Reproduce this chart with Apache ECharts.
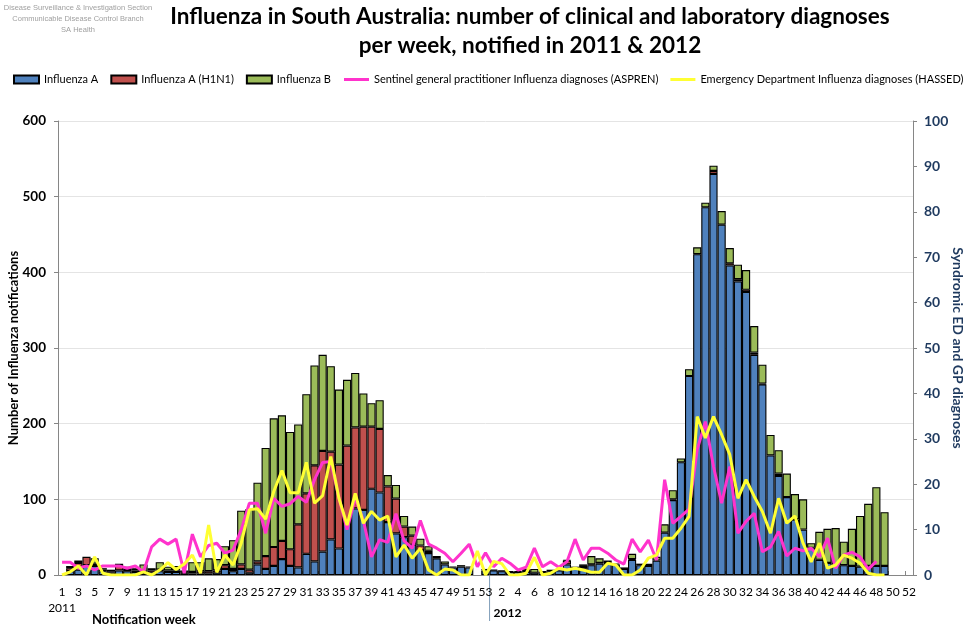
<!DOCTYPE html>
<html>
<head>
<meta charset="utf-8">
<script src="https://cdn.jsdelivr.net/npm/echarts@6/dist/echarts.min.js"></script>
<style>
  html, body { margin: 0; padding: 0; background: #fff; }
  #main { width: 970px; height: 629px; }
</style>
</head>
<body>
<div id="main"></div>
<script>
// notification weeks (2011 has 53 weeks, 2012 has 52)
const weeks2011 = [1,2,3,4,5,6,7,8,9,10,11,12,13,14,15,16,17,18,19,20,21,22,23,24,25,26,27,
  28,29,30,31,32,33,34,35,36,37,38,39,40,41,42,43,44,45,46,47,48,49,50,51,52,53];
const weeks2012 = [1,2,3,4,5,6,7,8,9,10,11,12,13,14,15,16,17,18,19,20,21,22,23,24,25,26,
  27,28,29,30,31,32,33,34,35,36,37,38,39,40,41,42,43,44,45,46,47,48,49,50,51,52];

// laboratory notifications per week
const fluA2011 = [0,5,7,13,12,5,3,6,5,4, 3,3,5,4,4,2,2,2,2,3, 8,5,8,3,14,8,12,21,12,10,
  28,18,31,47,35,70,88,86,114,109, 70,55,50,40,33,29,22,14,10,11, 10,0,6];
const h1n12011 = [0,4,9,11,3,2,2,6,3,2, 1,3,2,2,2,1,2,3,3,3, 5,3,6,4,4,17,25,24,22,57,
  80,127,133,116,111,101,107,110,82,84, 47,46,14,12,6,3,0,0,0,0, 0,0,0];
const fluB2011 = [0,3,3,0,7,2,2,3,3,3, 10,3,10,5,6,3,13,12,17,15, 25,38,71,80,104,143,170,166,155,132,
  131,132,127,113,99,87,72,44,31,38, 15,18,14,12,9,6,3,4,1,2, 1,0,2];

const fluA2012 = [6,5,4,4,4,3,4,5,6,14, 9,9,13,15,16,14,8,20,13,12, 19,56,99,149,263,424,486,530,463,409,
  388,374,291,252,158,131,103,73,60,36, 20,16,14,13,12,11,12,12,12,0, 0,0];
const h1n12012 = [0,0,0,0,3,0,0,0,0,5, 0,3,1,1,0,0,0,1,0,0, 0,0,1,0,0,0,0,4,0,3,
  3,3,3,1,0,3,0,1,0,0, 0,0,0,0,0,0,0,0,0,0, 0,0];
const fluB2012 = [1,1,1,1,1,5,1,2,2,1, 2,2,11,6,3,1,2,7,2,3, 5,11,12,5,9,9,6,7,18,20,
  19,26,35,25,27,31,31,33,40,6, 37,45,48,31,49,67,82,104,71,0, 0,0];

// syndromic diagnoses (right axis)
const aspren2011 = [2.8,2.8,1.5,2.0,1.1,2.0,2.0,2.0,1.5,2.0, 0.7,6.2,7.9,6.8,7.9,0.4,9,4,6.5,7,
  4.8,5.5,10,15.8,15.8,9.2,16.9,15.1,15.7,17.3, 16,21,24.8,25,17,10,17,12,4,7.8,
  7.2,13.5,7.5,5.9,12,6.8,5.9,4.8,2.9,4.8, 6.8,1.8,4.9];
const aspren2012 = [1.8,3.7,2.6,1.1,1.7,5.9,1.8,2.9,1.7,2.9, 7.9,3.3,5.9,5.9,4.8,3.3,2.4,7.9,5.1,7.7,
  3.3,21,11.4,12.9,14.5,27.6,33.8,23.9,15.8,23.9, 9.2,11.8,13.6,5.1,6.2,9.6,4.2,5.9,5.3,5.9,
  4,8.1,1.5,4.4,5,4,1.3,3,null,null, null,null];
const hassed2011 = [0,0.7,2,0,4,0.4,0,0,0,0, 0.7,0,1.1,2.7,1.2,2.4,4.4,0.4,11,0.6,
  4.4,2.2,7,14.4,14.6,12.3,18.4,23,18.1,18.1, 24.8,15.8,17.5,26.1,16.9,11,18,11.4,14,12.1,
  13,4,6.6,3.7,5.9,1.1,0,1.3,1.1,0, 0,5.3,0];
const hassed2012 = [3,2.5,0,0,0.4,3.9,0,0.4,1.5,1.1, 1.5,1.1,0.6,0.6,2.6,2.2,0,0,1.1,3.7,
  4.4,8.1,8.1,10.3,12.9,34.9,30.2,34.9,30.9,26.5, 16.9,21,17.3,14,9.2,16.9,11.4,13,7,2.9,
  7,1.5,2.2,4.4,3.7,2.6,0.4,0,0,null, null,null];

const FONT = 'Lato, "Liberation Sans", sans-serif';
const NAVY = '#1F3A5F';
const GP = 'Sentinel general practitioner Influenza diagnoses (ASPREN)';
const ED = 'Emergency Department Influenza diagnoses (HASSED)';

const categories = weeks2011.concat(weeks2012).map(String);
const bars = a => a.map(v => (v === 0 ? null : v));

function barSeries(name, data, color) {
  return {
    name: name, type: 'bar', stack: 'lab', data: bars(data),
    barWidth: '100%', barCategoryGap: '0%',
    itemStyle: { color: color, borderColor: '#000', borderWidth: 1.1 }
  };
}
function lineSeries(name, data, color) {
  return {
    name: name, type: 'line', yAxisIndex: 1, data: data,
    symbol: 'none', connectNulls: false,
    lineStyle: { color: color, width: 3 }, itemStyle: { color: color }, z: 5
  };
}

const legendText = { fontSize: 11, color: '#000', fontFamily: FONT };

const chart = echarts.init(document.getElementById('main'));
chart.setOption({
  animation: false,
  textStyle: { fontFamily: FONT },
  grid: { left: 58, right: 57, top: 121, bottom: 54, containLabel: false, outerBoundsMode: 'none' },
  legend: [
    {
      top: 69, left: 8, itemGap: 12, itemWidth: 25, itemHeight: 8, icon: 'rect',
      textStyle: legendText,
      data: ['Influenza A', 'Influenza A (H1N1)', 'Influenza B']
    },
    {
      top: 69, left: 339, itemGap: 12, itemWidth: 25, itemHeight: 3, icon: 'rect',
      textStyle: legendText,
      data: [GP, ED]
    }
  ],
  xAxis: {
    type: 'category', data: categories, boundaryGap: true,
    axisLine: { lineStyle: { color: '#868686' } },
    axisTick: { show: true, inside: true, interval: 1, length: 4, lineStyle: { color: '#868686' } },
    axisLabel: { interval: 1, fontSize: 12, color: '#000', margin: 11, fontFamily: FONT }
  },
  yAxis: [
    {
      type: 'value', min: 0, max: 600, interval: 100,
      axisLine: { show: true, lineStyle: { color: '#868686' } },
      axisTick: { show: true, length: 4, lineStyle: { color: '#868686' } },
      axisLabel: { fontWeight: 'bold', fontSize: 13.5, color: '#000', margin: 12, fontFamily: FONT },
      splitLine: { lineStyle: { color: '#E4E4E4' } }
    },
    {
      type: 'value', min: 0, max: 100, interval: 10, position: 'right',
      axisLine: { show: true, lineStyle: { color: '#868686' } },
      axisTick: { show: true, length: 4, lineStyle: { color: '#868686' } },
      axisLabel: { fontWeight: 'bold', fontSize: 14, color: NAVY, margin: 11, fontFamily: FONT },
      splitLine: { show: false }
    }
  ],
  series: [
    barSeries('Influenza A', fluA2011.concat(fluA2012), '#4F81BD'),
    barSeries('Influenza A (H1N1)', h1n12011.concat(h1n12012), '#C0504D'),
    barSeries('Influenza B', fluB2011.concat(fluB2012), '#9BBB59'),
    lineSeries(GP, aspren2011.concat(aspren2012), '#FF33CC'),
    lineSeries(ED, hassed2011.concat(hassed2012), '#FFFF33')
  ]
});

// year marks, axis titles and headings
const first2011 = chart.convertToPixel({ xAxisIndex: 0 }, 0);
const last2011 = chart.convertToPixel({ xAxisIndex: 0 }, weeks2011.length - 1);
const first2012 = chart.convertToPixel({ xAxisIndex: 0 }, weeks2011.length);
const yearSplit = (last2011 + first2012) / 2;
const axisY = chart.convertToPixel({ yAxisIndex: 0 }, 0);
const axisTop = chart.convertToPixel({ yAxisIndex: 0 }, 600);
const midY = (axisY + axisTop) / 2;

chart.setOption({
  graphic: [
    {
      type: 'text', x: 78, y: 2,
      style: {
        text: 'Disease Surveillance & Investigation Section\nCommunicable Disease Control Branch\nSA Health',
        align: 'center', fill: '#A0A0A0', fontSize: 7.5, lineHeight: 11,
        fontFamily: '"Liberation Sans Narrow", "Liberation Sans", sans-serif'
      }
    },
    {
      type: 'text', x: 530, y: 2,
      style: {
        text: 'Influenza in South Australia: number of clinical and laboratory diagnoses\nper week, notified in 2011 & 2012',
        align: 'center', fill: '#000', fontSize: 22.5, fontWeight: 'bold', lineHeight: 29, fontFamily: FONT
      }
    },
    {
      type: 'text', x: 14, y: midY, rotation: Math.PI / 2,
      style: {
        text: 'Number of Influenza notifications', align: 'center', verticalAlign: 'middle',
        fill: '#000', fontSize: 13, fontWeight: 'bold', fontFamily: FONT
      }
    },
    {
      type: 'text', x: 958, y: midY, rotation: -Math.PI / 2,
      style: {
        text: 'Syndromic ED and GP diagnoses', align: 'center', verticalAlign: 'middle',
        fill: NAVY, fontSize: 14, fontWeight: 'bold', fontFamily: FONT
      }
    },
    {
      type: 'line', shape: { x1: yearSplit, y1: axisY, x2: yearSplit, y2: axisY + 46 },
      style: { stroke: '#7F9DB9', lineWidth: 1 }
    },
    {
      type: 'text', x: first2011, y: axisY + 27,
      style: { text: '2011', align: 'center', fill: '#000', fontSize: 12, fontFamily: FONT }
    },
    {
      type: 'text', x: yearSplit + 4, y: axisY + 32,
      style: { text: '2012', align: 'left', fill: '#000', fontSize: 12, fontWeight: 'bold', fontFamily: FONT }
    },
    {
      type: 'text', x: 92, y: axisY + 38,
      style: { text: 'Notification week', fill: '#000', fontSize: 13, fontWeight: 'bold', fontFamily: FONT }
    }
  ]
});
</script>
</body>
</html>
